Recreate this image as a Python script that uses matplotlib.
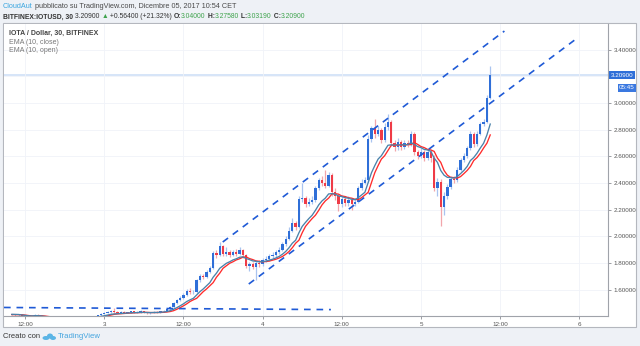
import numpy as np
import pandas as pd
import matplotlib
matplotlib.use('Agg')
import matplotlib.pyplot as plt
from matplotlib.patches import Rectangle, Ellipse

plt.rcParams['font.family'] = ['Liberation Sans', 'DejaVu Sans']

# 30 min candles, index 0 = Dec 2 12:00
first_idx = -4
first_open = 1.412
closes = [
    1.415, 1.408, 1.412, 1.395, 1.388, 1.392, 1.398, 1.412, 1.405, 1.392,
    1.385, 1.380, 1.386, 1.380, 1.376, 1.382, 1.386, 1.380, 1.386, 1.390,
    1.386, 1.392, 1.396, 1.390, 1.396, 1.400, 1.406, 1.418, 1.425, 1.432,
    1.440, 1.430, 1.428, 1.434, 1.426, 1.430, 1.436, 1.428, 1.432, 1.438,
    1.428, 1.422, 1.426, 1.432, 1.428, 1.436, 1.442, 1.452, 1.470, 1.500,
    1.520, 1.540, 1.560, 1.590, 1.580, 1.585, 1.670, 1.700, 1.695, 1.735,
    1.760, 1.875, 1.860, 1.925, 1.865, 1.880, 1.860, 1.885, 1.870, 1.895,
    1.860, 1.775, 1.790, 1.770, 1.800, 1.790, 1.820, 1.830, 1.850, 1.860,
    1.880, 1.900, 1.940, 1.980, 2.040, 2.100, 2.070, 2.280, 2.290, 2.240,
    2.260, 2.270, 2.360, 2.420, 2.400, 2.380, 2.460, 2.330, 2.300, 2.240,
    2.280, 2.250, 2.270, 2.240, 2.260, 2.360, 2.400, 2.420, 2.730, 2.810,
    2.770, 2.800, 2.720, 2.820, 2.860, 2.700, 2.670, 2.710, 2.670, 2.700,
    2.690, 2.770, 2.630, 2.600, 2.630, 2.590, 2.630, 2.590, 2.360, 2.410,
    2.220, 2.300, 2.370, 2.430, 2.420, 2.500, 2.570, 2.600, 2.660, 2.770,
    2.690, 2.770, 2.840, 2.860, 3.040, 3.209,
]
highs = [
    1.420, 1.418, 1.416, 1.414, 1.398, 1.395, 1.400, 1.418, 1.415, 1.406,
    1.394, 1.388, 1.389, 1.388, 1.383, 1.385, 1.389, 1.388, 1.389, 1.393,
    1.393, 1.395, 1.398, 1.398, 1.399, 1.403, 1.409, 1.421, 1.430, 1.436,
    1.445, 1.460, 1.436, 1.440, 1.437, 1.435, 1.441, 1.439, 1.437, 1.444,
    1.441, 1.431, 1.430, 1.437, 1.436, 1.441, 1.447, 1.460, 1.478, 1.510,
    1.532, 1.550, 1.572, 1.605, 1.610, 1.600, 1.680, 1.720, 1.715, 1.750,
    1.780, 1.890, 1.895, 1.960, 1.935, 1.920, 1.895, 1.900, 1.905, 1.920,
    1.905, 1.870, 1.810, 1.805, 1.815, 1.820, 1.835, 1.850, 1.870, 1.885,
    1.900, 1.920, 1.960, 2.000, 2.070, 2.140, 2.115, 2.300, 2.400, 2.305,
    2.285, 2.300, 2.380, 2.440, 2.450, 2.500, 2.480, 2.475, 2.360, 2.320,
    2.310, 2.300, 2.300, 2.285, 2.290, 2.380, 2.430, 2.445, 2.760, 2.830,
    2.880, 2.830, 2.815, 2.850, 2.920, 2.875, 2.720, 2.735, 2.725, 2.725,
    2.720, 2.790, 2.785, 2.650, 2.660, 2.650, 2.660, 2.650, 2.610, 2.440,
    2.430, 2.330, 2.390, 2.450, 2.455, 2.520, 2.590, 2.625, 2.680, 2.790,
    2.780, 2.790, 2.860, 2.880, 3.060, 3.2758,
]
lows = [
    1.408, 1.404, 1.404, 1.392, 1.385, 1.385, 1.390, 1.396, 1.400, 1.388,
    1.382, 1.376, 1.377, 1.376, 1.372, 1.373, 1.379, 1.377, 1.377, 1.383,
    1.382, 1.383, 1.389, 1.387, 1.387, 1.393, 1.397, 1.403, 1.414, 1.421,
    1.428, 1.426, 1.423, 1.424, 1.421, 1.422, 1.426, 1.424, 1.424, 1.428,
    1.423, 1.418, 1.418, 1.422, 1.424, 1.424, 1.431, 1.438, 1.447, 1.465,
    1.494, 1.512, 1.532, 1.552, 1.570, 1.568, 1.575, 1.660, 1.680, 1.688,
    1.725, 1.752, 1.840, 1.850, 1.855, 1.850, 1.845, 1.850, 1.855, 1.860,
    1.840, 1.760, 1.740, 1.755, 1.670, 1.770, 1.780, 1.805, 1.815, 1.835,
    1.845, 1.865, 1.890, 1.925, 1.970, 2.030, 2.050, 2.060, 2.260, 2.220,
    2.225, 2.240, 2.260, 2.350, 2.380, 2.360, 2.370, 2.300, 2.270, 2.190,
    2.220, 2.225, 2.230, 2.200, 2.225, 2.250, 2.345, 2.390, 2.410, 2.710,
    2.740, 2.750, 2.700, 2.710, 2.800, 2.680, 2.640, 2.650, 2.645, 2.655,
    2.670, 2.680, 2.610, 2.580, 2.585, 2.565, 2.575, 2.560, 2.340, 2.300,
    2.080, 2.160, 2.280, 2.355, 2.400, 2.410, 2.490, 2.555, 2.590, 2.650,
    2.670, 2.680, 2.760, 2.830, 2.850, 3.0319,
]

# drawn trend lines (candle index, price)
upper_x, upper_y = [59.9, 145.3], [1.957, 3.540]
lower_x, lower_y = [67.8, 166.6], [1.642, 3.473]
flat_x, flat_y = [-6.4, 92.7], [1.466, 1.450]

time_ticks = [0, 24, 48, 72, 96, 120, 144, 168]
time_labels = ['12:00', '3', '12:00', '4', '12:00', '5', '12:00', '6']
price_ticks = [1.6, 1.8, 2.0, 2.2, 2.4, 2.6, 2.8, 3.0, 3.2, 3.4]
# 3.2 label sits under the last price tag, so it is not shown
price_labels = ['1.60000', '1.80000', '2.00000', '2.20000', '2.40000', '2.60000',
                '2.80000', '3.00000', '', '3.40000']
change, change_pct, countdown = 0.564, 21.32, '05:45'

W, H = 640, 346
UP, DOWN = '#2f6fd8', '#ef3b47'
UP_W, DOWN_W = '#a9c4f0', '#f2a6ab'
GREEN = '#3fa34d'

closes = np.array(closes)
highs = np.array(highs)
lows = np.array(lows)
idx = np.arange(first_idx, first_idx + len(closes))
opens = np.r_[first_open, closes[:-1]]
up = closes >= opens

ema_c = pd.Series(closes).ewm(span=10, adjust=False).mean()
ema_o = pd.Series(opens).ewm(span=10, adjust=False).mean()

fig = plt.figure(figsize=(6.4, 3.46), dpi=100, facecolor='#eef1f6')
fig.patches.append(Rectangle((3 / W, 1 - 327 / H), 633 / W, 304 / H, transform=fig.transFigure,
                             facecolor='white', edgecolor='#b4b7be', lw=0.8, zorder=-5))
ax = fig.add_axes([4 / W, 1 - 316 / H, 604 / W, 292 / H])
ax.set_facecolor('white')

# candles
ax.vlines(idx, lows, highs, colors=np.where(up, UP_W, DOWN_W), lw=0.9, zorder=2)
ax.bar(idx, np.maximum(np.abs(closes - opens), 0.004), bottom=np.minimum(opens, closes),
       width=0.7, color=np.where(up, UP, DOWN), lw=0, zorder=3)

ax.plot(idx, ema_o, color='#ff2b2b', lw=0.95, zorder=4)
ax.plot(idx, ema_c, color='#4a82aa', lw=0.95, zorder=5)

for xs, ys in [(upper_x, upper_y), (lower_x, lower_y), (flat_x, flat_y)]:
    ax.plot(xs, ys, color='#1f5ad6', lw=1.2, dashes=(4, 3.5), zorder=6)

ax.axhline(closes[-1], color='#cfe0f7', lw=1.2, zorder=1)

ax.set_xlim(-6.4, 176.7)
ax.set_ylim(1.402, 3.593)
ax.set_xticks(time_ticks)
ax.set_xticklabels(time_labels)
ax.set_yticks(price_ticks)
ax.set_yticklabels(price_labels)
ax.yaxis.tick_right()
ax.tick_params(axis='both', labelsize=4.5, colors='#8a8d94', labelcolor='#555555',
               length=2.5, width=0.6, pad=1.5)
ax.grid(color='#f0f3f9', lw=0.6, zorder=0)
for s in ['top', 'left']:
    ax.spines[s].set_visible(False)
for s in ['right', 'bottom']:
    ax.spines[s].set_color('#a0a3aa')
    ax.spines[s].set_linewidth(0.8)

# last price tag
ax.annotate('%.5f' % closes[-1], xy=(1.0, closes[-1]), xycoords=('axes fraction', 'data'),
            xytext=(2, 0), textcoords='offset points', ha='left', va='center', fontsize=4.5,
            color='white', annotation_clip=False,
            bbox=dict(boxstyle='square,pad=0.25', fc='#2f6fd8', ec='none'))
ax.annotate(countdown, xy=(1.0, closes[-1]), xycoords=('axes fraction', 'data'),
            xytext=(8, -9), textcoords='offset points', ha='left', va='center', fontsize=4.5,
            color='white', annotation_clip=False,
            bbox=dict(boxstyle='square,pad=0.25', fc='#3a78e0', ec='none'))

# legend lines in the pane
ax.text(5 / 604, 1 - 9 / 292, 'IOTA / Dollar, 30, BITFINEX', transform=ax.transAxes,
        fontsize=5, color='#444444', fontweight='bold', va='center')
ax.text(5 / 604, 1 - 18 / 292, 'EMA (10, close)', transform=ax.transAxes,
        fontsize=5, color='#777777', va='center')
ax.text(5 / 604, 1 - 27 / 292, 'EMA (10, open)', transform=ax.transAxes,
        fontsize=5, color='#777777', va='center')

renderer = fig.canvas.get_renderer()


def put_row(x, y, parts, size):
    for s, color, weight in parts:
        t = fig.text(x / W, 1 - y / H, s, color=color, fontsize=size, fontweight=weight,
                     va='center', ha='left')
        x += t.get_window_extent(renderer=renderer).width
    return x


put_row(3, 7, [('CloudAut', '#3aa6e0', 'normal'),
               ('\u00a0pubblicato su TradingView.com, Dicembre 05, 2017 10:54 CET', '#4a4a4a', 'normal')], 5.2)
put_row(3, 17, [('BITFINEX:IOTUSD, 30', '#333333', 'bold'),
                ('\u00a0%.5f\u00a0' % closes[-1], '#333333', 'normal'),
                ('\u25b2', GREEN, 'normal'),
                ('\u00a0+%.5f (+%.2f%%)\u00a0' % (change, change_pct), '#333333', 'normal'),
                ('O:', '#333333', 'bold'), ('%.5f' % opens[-1], GREEN, 'normal'),
                ('\u00a0H:', '#333333', 'bold'), ('%.5f' % highs[-1], GREEN, 'normal'),
                ('\u00a0L:', '#333333', 'bold'), ('%.5f' % lows[-1], GREEN, 'normal'),
                ('\u00a0C:', '#333333', 'bold'), ('%.5f' % closes[-1], GREEN, 'normal')], 4.9)

# footer
fig.text(3 / W, 1 - 337 / H, 'Creato con', fontsize=5.4, color='#333333', va='center')
for cx, cy, w, h in [(46, 338, 7, 4), (50, 336, 6, 5), (53, 338, 6, 4)]:
    fig.patches.append(Ellipse((cx / W, 1 - cy / H), w / W, h / H, transform=fig.transFigure,
                               facecolor='#5bb5e6', edgecolor='none'))
fig.text(58 / W, 1 - 337 / H, 'TradingView', fontsize=5.6, color='#45a5df', va='center')

fig.savefig('out.png', dpi=100, facecolor=fig.get_facecolor())
